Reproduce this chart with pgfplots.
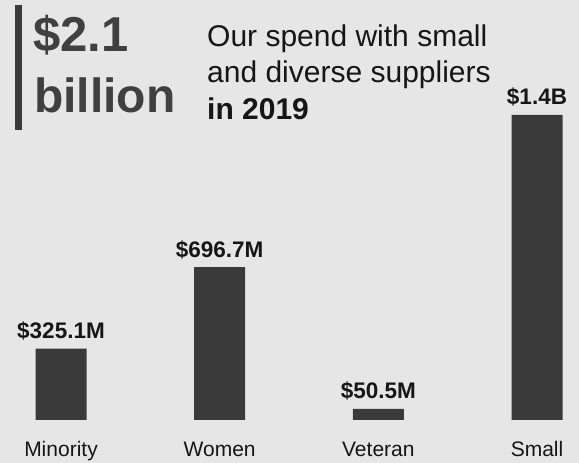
\documentclass[border=0pt]{standalone}
\usepackage{fontspec}
\setmainfont{Liberation Sans}
\usepackage{pgfplots}
\pgfplotsset{compat=1.18}
\definecolor{bgc}{HTML}{E6E6E6}
\definecolor{barc}{HTML}{3A3A3A}
\definecolor{bigc}{HTML}{404040}
\definecolor{txt}{HTML}{161616}
\begin{document}
\begin{tikzpicture}
\fill[bgc] (0pt,0pt) rectangle (579pt,463pt);
% left accent bar
\fill[barc] (15pt,458pt) rectangle (22pt,333pt);
% big number
\node[anchor=base west, inner sep=0pt, text=bigc, font=\fontsize{49}{56}\selectfont\bfseries] at (33pt,411pt) {\$2.1};
\node[anchor=base west, inner sep=0pt, text=bigc, font=\fontsize{48}{56}\selectfont\bfseries] at (34pt,350pt) {billion};
% title
\node[anchor=base west, inner sep=0pt, text=txt, font=\fontsize{30}{36}\selectfont] at (207pt,416pt) {Our spend with small};
\node[anchor=base west, inner sep=0pt, text=txt, font=\fontsize{30}{36}\selectfont] at (207pt,380pt) {and diverse suppliers};
\node[anchor=base west, inner sep=0pt, text=txt, font=\fontsize{30}{36}\selectfont\bfseries] at (207pt,343pt) {in 2019};
\begin{axis}[
  at={(0pt,43pt)}, anchor=south west,
  scale only axis, width=579pt, height=420pt,
  xmin=-0.3845, xmax=3.2647,
  ymin=0, ymax=1912.6,
  axis line style={draw=none},
  major tick length=0pt,
  ytick=\empty,
  xtick=data,
  xticklabels={Minority,Women,Veteran,Small},
  xticklabel style={anchor=base, yshift=-37pt, inner sep=0pt, text=txt, font=\fontsize{21}{25}\selectfont},
  clip=false,
]
\addplot[ybar, bar width=51pt, fill=barc, draw=none,
  point meta=explicit symbolic,
  nodes near coords,
  nodes near coords style={anchor=base, yshift=10pt, inner sep=0pt, text=txt, font=\fontsize{22.5}{27}\selectfont\bfseries},
] coordinates {
  (0,325.1) [\$325.1M]
  (1,696.7) [\$696.7M]
  (2,50.5) [\$50.5M]
  (3,1389) [\$1.4B]
};
\end{axis}
\pgfresetboundingbox
\path[use as bounding box] (0pt,0pt) rectangle (579pt,463pt);
\end{tikzpicture}
\end{document}
